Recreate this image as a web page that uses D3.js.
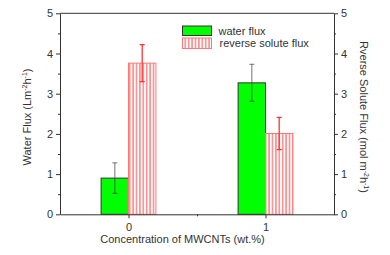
<!DOCTYPE html>
<html lang="en">
<head>
<meta charset="UTF-8">
<title>Water flux and reverse solute flux</title>
<script src="https://d3js.org/d3.v7.min.js"></script>
<style>
    body { margin: 0; background: #fff; }
    text { font-family: "Liberation Sans", Arial, sans-serif; fill: #333; }
</style>
</head>
<body>
<div id="chart"></div>
<script>
    // data
    var concentrations = [0, 1];
    var waterFlux = [0.9, 3.27];
    var waterErr = [0.38, 0.46];
    var solute = [3.76, 2.01];
    var soluteErr = [0.46, 0.4];
    var yTicks = [0, 1, 2, 3, 4, 5];
    var yMinor = [0.5, 1.5, 2.5, 3.5, 4.5];

    var W = 390, H = 255;
    var margin = { top: 13.3, right: 56, bottom: 40.7, left: 60 };
    var width = W - margin.left - margin.right;
    var height = H - margin.top - margin.bottom;

    var svg = d3.select("#chart").append("svg")
        .attr("width", W).attr("height", H);

    var defs = svg.append("defs");
    var pat = defs.append("pattern")
        .attr("id", "vhatch")
        .attr("patternUnits", "userSpaceOnUse")
        .attr("width", 3.4).attr("height", 10);
    pat.append("rect").attr("width", 3.4).attr("height", 10).attr("fill", "#fff");
    pat.append("line")
        .attr("x1", 1.7).attr("x2", 1.7).attr("y1", 0).attr("y2", 10)
        .attr("stroke", "#f33").attr("stroke-width", 0.9);

    var g = svg.append("g")
        .attr("transform", "translate(" + margin.left + "," + margin.top + ")");

    var x = d3.scaleLinear().domain([-0.5, 1.5]).range([0, width]);
    var y = d3.scaleLinear().domain([0, 5]).range([height, 0]);
    var y2 = d3.scaleLinear().domain([0, 5]).range([height, 0]);
    var bw = 0.2;

    // bars
    g.selectAll(".wbar").data(concentrations).enter().append("rect")
        .attr("class", "wbar")
        .attr("x", function(d) { return x(d - bw); })
        .attr("width", function(d) { return x(d) - x(d - bw); })
        .attr("y", function(d, i) { return y(waterFlux[i]); })
        .attr("height", function(d, i) { return y(0) - y(waterFlux[i]); })
        .attr("fill", "#00ff00")
        .attr("stroke", "#333")
        .attr("stroke-width", 1);

    g.selectAll(".sbar").data(concentrations).enter().append("rect")
        .attr("class", "sbar")
        .attr("x", function(d) { return x(d); })
        .attr("width", function(d) { return x(d + bw) - x(d); })
        .attr("y", function(d, i) { return y2(solute[i]); })
        .attr("height", function(d, i) { return y2(0) - y2(solute[i]); })
        .attr("fill", "url(#vhatch)")
        .attr("stroke", "#f77")
        .attr("stroke-width", 1);

    // error bars
    function errBars(vals, errs, scale, offset, color) {
        concentrations.forEach(function(c, i) {
            var cx = x(c + offset);
            var eb = g.append("g").attr("stroke", color).attr("stroke-width", 1.3);
            eb.append("line").attr("x1", cx).attr("x2", cx)
                .attr("y1", scale(vals[i] + errs[i])).attr("y2", scale(vals[i] - errs[i]));
            [vals[i] + errs[i], vals[i] - errs[i]].forEach(function(v) {
                eb.append("line").attr("x1", cx - 2.5).attr("x2", cx + 2.5)
                    .attr("y1", scale(v)).attr("y2", scale(v));
            });
        });
    }
    errBars(waterFlux, waterErr, y, -bw / 2, "rgba(60,60,60,0.55)");
    errBars(solute, soluteErr, y2, bw / 2, "#f33");

    // axes
    var xAxis = g.append("g")
        .attr("transform", "translate(0," + height + ")")
        .call(d3.axisBottom(x).tickValues(concentrations).tickSize(4).tickSizeOuter(0).tickFormat(d3.format("d")));
    g.append("g")
        .attr("transform", "translate(0," + height + ")")
        .call(d3.axisBottom(x).tickValues([0.5]).tickSize(2).tickFormat(""))
        .select(".domain").remove();

    g.append("g")
        .call(d3.axisLeft(y).tickValues(yTicks).tickSize(4).tickSizeOuter(0).tickPadding(3).tickFormat(d3.format("d")));
    g.append("g")
        .call(d3.axisLeft(y).tickValues(yMinor).tickSize(2).tickFormat(""))
        .select(".domain").remove();

    g.append("g")
        .attr("transform", "translate(" + width + ",0)")
        .call(d3.axisRight(y2).tickValues(yTicks).tickSize(4).tickSizeOuter(0).tickPadding(3).tickFormat(d3.format("d")));
    g.append("g")
        .attr("transform", "translate(" + width + ",0)")
        .call(d3.axisRight(y2).tickValues(yMinor).tickSize(2).tickFormat(""))
        .select(".domain").remove();

    // top border
    g.append("line")
        .attr("x1", 0).attr("x2", width).attr("y1", 0).attr("y2", 0)
        .attr("stroke", "#333");

    g.selectAll(".domain, .tick line").attr("stroke", "#333");
    g.selectAll(".tick text")
        .style("font-family", "'Liberation Sans', Arial, sans-serif")
        .style("font-size", "11px")
        .attr("fill", "#444");
    xAxis.selectAll(".tick text").attr("dy", "0.9em");

    // axis titles
    svg.append("text")
        .attr("x", 182.5).attr("y", 243)
        .attr("text-anchor", "middle")
        .style("font-size", "11px")
        .text("Concentration of MWCNTs (wt.%)");

    var lt = svg.append("text")
        .attr("transform", "translate(31,117) rotate(-90)")
        .attr("text-anchor", "middle")
        .style("font-size", "11px");
    lt.append("tspan").text("Water Flux  (Lm");
    lt.append("tspan").attr("dy", -4).style("font-size", "7px").text("-2");
    lt.append("tspan").attr("dy", 4).text("h");
    lt.append("tspan").attr("dy", -4).style("font-size", "7px").text("-1");
    lt.append("tspan").attr("dy", 4).text(")");

    var rt = svg.append("text")
        .attr("transform", "translate(360,117) rotate(90)")
        .attr("text-anchor", "middle")
        .style("font-size", "11px");
    rt.append("tspan").text("Rverse Solute Flux  (mol m");
    rt.append("tspan").attr("dy", -4).style("font-size", "7px").text("-2");
    rt.append("tspan").attr("dy", 4).text("h");
    rt.append("tspan").attr("dy", -4).style("font-size", "7px").text("-1");
    rt.append("tspan").attr("dy", 4).text(")");

    // legend
    var legend = svg.append("g");
    legend.append("rect")
        .attr("x", 182.5).attr("y", 26).attr("width", 29).attr("height", 9.5)
        .attr("fill", "#00ff00").attr("stroke", "#333");
    legend.append("rect")
        .attr("x", 182.5).attr("y", 38).attr("width", 29).attr("height", 10.5)
        .attr("fill", "url(#vhatch)").attr("stroke", "#f77");
    legend.append("text").attr("x", 218.5).attr("y", 34.5)
        .style("font-size", "11px").text("water flux");
    legend.append("text").attr("x", 219.5).attr("y", 47)
        .style("font-size", "11px").text("reverse solute flux");
</script>
</body>
</html>
